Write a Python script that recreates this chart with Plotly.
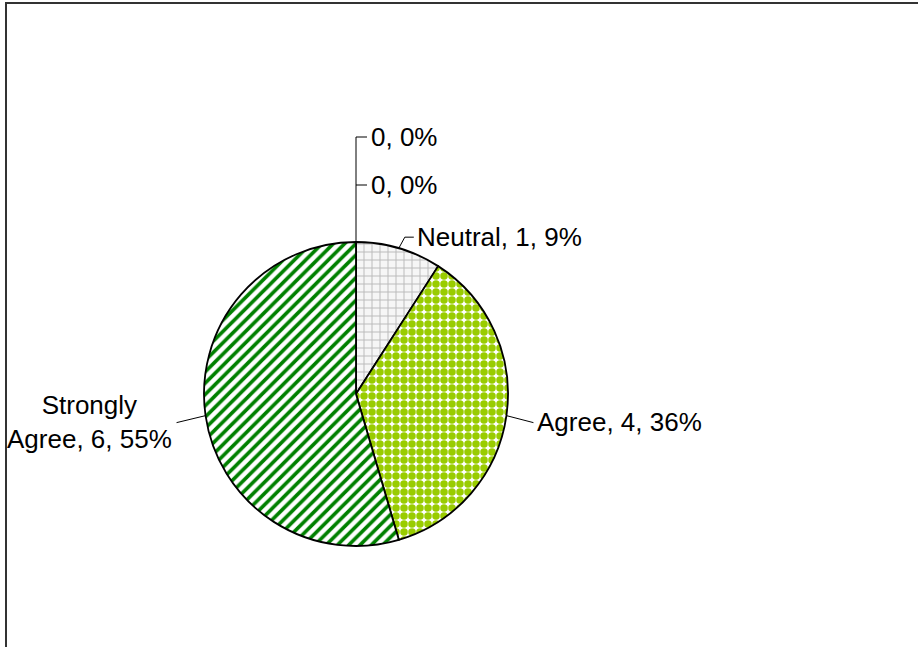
import math
import plotly.graph_objects as go

# survey responses (two empty categories shown as "0, 0%")
categories = ["", "", "Neutral", "Agree", "Strongly Agree"]
counts = [0, 0, 1, 4, 6]
label_texts = ["0, 0%", "0, 0%", "Neutral, 1, 9%", "Agree, 4, 36%", "Strongly<br>Agree, 6, 55%"]

W, H = 918, 647
CX, CY, R = 356, 394, 152  # pie centre / radius in pixels

fig = go.Figure()

fig.add_trace(go.Pie(
    labels=[c if c else "blank%d" % i for i, c in enumerate(categories)],
    values=counts,
    sort=False,
    direction="clockwise",
    rotation=0,
    textinfo="none",
    hoverinfo="label+value+percent",
    showlegend=False,
    domain=dict(x=[(CX - R) / W, (CX + R) / W], y=[(H - CY - R) / H, (H - CY + R) / H]),
    marker=dict(
        colors=["white", "white", "white", "white", "white"],
        line=dict(color="black", width=1.8),
        pattern=dict(
            shape=["", "", "+", ".", "/"],
            fgcolor=["#c0c0c0", "#c0c0c0", "#b8b8b8", "#99cc00", "#008000"],
            bgcolor=["white", "white", "#f6f6f6", "white", "white"],
            size=[8, 8, 8, 8, 8],
            solidity=[0.2, 0.2, 0.22, 0.7, 0.45],
            fillmode="replace",
        ),
    ),
))


def px(x, y):
    return x / W, 1 - y / H


# anchor point of each label on the pie edge, from the slice mid-angles
total = sum(counts)
anchors = []
cum = 0
for v in counts:
    mid = (cum + v / 2) / total * 2 * math.pi
    anchors.append((CX + R * math.sin(mid), CY - R * math.cos(mid)))
    cum += v

font = dict(family="Liberation Sans, Arial, sans-serif", size=26, color="black")
shapes = []
annotations = []

# zero slices: shared vertical leader going up from the top of the pie
ax, ay = anchors[0]
top1, top2 = ay - 105, ay - 57
shapes.append(dict(type="line", xref="paper", yref="paper",
                   x0=px(ax, ay)[0], y0=px(ax, ay)[1], x1=px(ax, top1)[0], y1=px(ax, top1)[1],
                   line=dict(color="black", width=1)))
for i, ty in ((0, top1), (1, top2)):
    shapes.append(dict(type="line", xref="paper", yref="paper",
                       x0=px(ax, ty)[0], y0=px(ax, ty)[1], x1=px(ax + 11, ty)[0], y1=px(ax + 11, ty)[1],
                       line=dict(color="black", width=1)))
    lx, ly = px(ax + 13, ty)
    annotations.append(dict(x=lx, y=ly, xref="paper", yref="paper", text=label_texts[i],
                            showarrow=False, xanchor="left", yanchor="middle", font=font))

# Neutral
nx, ny = anchors[2]
shapes.append(dict(type="path", xref="paper", yref="paper",
                   path="M {} {} L {} {} L {} {}".format(
                       *px(nx, ny), *px(nx + 6, ny - 11), *px(nx + 15, ny - 11)),
                   line=dict(color="black", width=1)))
lx, ly = px(nx + 16, ny - 11)
annotations.append(dict(x=lx, y=ly, xref="paper", yref="paper", text=label_texts[2],
                        showarrow=False, xanchor="left", yanchor="middle", font=font))

# Agree
gx, gy = anchors[3]
shapes.append(dict(type="line", xref="paper", yref="paper",
                   x0=px(gx, gy)[0], y0=px(gx, gy)[1], x1=px(gx + 27, gy + 7)[0], y1=px(gx + 27, gy + 7)[1],
                   line=dict(color="black", width=1)))
lx, ly = px(gx + 29, gy + 6)
annotations.append(dict(x=lx, y=ly, xref="paper", yref="paper", text=label_texts[3],
                        showarrow=False, xanchor="left", yanchor="middle", font=font))

# Strongly Agree
sx, sy = anchors[4]
shapes.append(dict(type="line", xref="paper", yref="paper",
                   x0=px(sx, sy)[0], y0=px(sx, sy)[1], x1=px(sx - 29, sy + 7)[0], y1=px(sx - 29, sy + 7)[1],
                   line=dict(color="black", width=1)))
lx, ly = px(sx - 116, sy + 6)
annotations.append(dict(x=lx, y=ly, xref="paper", yref="paper", text=label_texts[4],
                        showarrow=False, xanchor="center", yanchor="middle", align="center", font=font))

# chart frame (cut off at right and bottom like the source)
shapes.append(dict(type="rect", xref="paper", yref="paper",
                   x0=6 / W, y0=-0.05, x1=1.05, y1=1 - 3 / H,
                   line=dict(color="#333333", width=2)))

fig.update_layout(
    width=W,
    height=H,
    margin=dict(l=0, r=0, t=0, b=0),
    paper_bgcolor="white",
    plot_bgcolor="white",
    shapes=shapes,
    annotations=annotations,
)

fig.write_html("out.html", config={"displayModeBar": False},
               post_script="document.body.style.margin='0';document.body.style.overflow='hidden';")
